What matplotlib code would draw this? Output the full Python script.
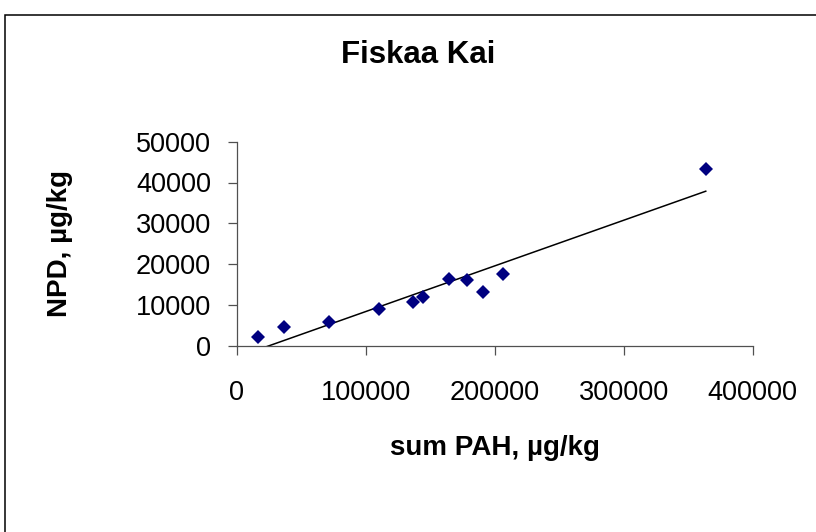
import numpy as np
import matplotlib
matplotlib.use('Agg')
import matplotlib.pyplot as plt
from matplotlib.patches import Rectangle

# values
sum_pah = [16860, 36920, 71170, 109970, 136720, 144750, 164280, 178730, 190770, 206290, 363610]
npd = [2040, 4490, 5880, 8900, 10620, 11850, 16260, 16180, 13150, 17650, 43220]
x_ticks = [0, 100000, 200000, 300000, 400000]
y_ticks = [0, 10000, 20000, 30000, 40000, 50000]

title = 'Fiskaa Kai'
x_label = 'sum PAH, µg/kg'
y_label = 'NPD, µg/kg'


def main():
    plt.rcParams['font.family'] = ['Liberation Sans', 'DejaVu Sans']
    W, H = 816, 532
    fig = plt.figure(figsize=(W / 100, H / 100), dpi=100)

    # chart area border (cut off at right and bottom in the reference)
    fig.patches.append(Rectangle((5 / W, -0.1), 1.2, 1.1 - 15 / H,
                                 transform=fig.transFigure, fill=False,
                                 edgecolor='black', linewidth=1.1))

    ax = fig.add_axes([236.7 / W, 1 - 345.7 / H, 516 / W, 204 / H])
    x = np.array(sum_pah, dtype=float)
    y = np.array(npd, dtype=float)

    # linear trendline over the data range
    slope, icpt = np.polyfit(x, y, 1)
    xs = np.array([x.min(), x.max()])
    ax.plot(xs, slope * xs + icpt, color='black', linewidth=1.1, zorder=2)
    ax.plot(x, y, linestyle='none', marker='D', markersize=7.4,
            color='#000080', markeredgewidth=0, zorder=3)

    ax.set_xlim(0, 400000)
    ax.set_ylim(0, 50000)
    ax.set_xticks(x_ticks)
    ax.set_yticks(y_ticks)
    ax.set_xticklabels([str(v) for v in x_ticks])
    ax.set_yticklabels([str(v) for v in y_ticks])

    for s in ['top', 'right']:
        ax.spines[s].set_visible(False)
    for s in ['left', 'bottom']:
        ax.spines[s].set_color('#505050')
        ax.spines[s].set_linewidth(0.9)
    ax.tick_params(axis='both', direction='out', length=6.5, width=0.9,
                   color='#505050', labelsize=19.5, labelcolor='black')
    ax.tick_params(axis='x', pad=18.5)
    ax.tick_params(axis='y', pad=12)

    ax.set_xlabel(x_label, fontsize=20, fontweight='bold', va='center')
    ax.xaxis.set_label_coords(0.5, (345.7 - 448) / 204)
    ax.set_ylabel(y_label, fontsize=20, fontweight='bold', va='center')
    ax.yaxis.set_label_coords((60 - 236.7) / 516, 0.5)

    fig.text(418 / W, 1 - 55 / H, title, ha='center', va='center',
             fontsize=22.5, fontweight='bold')

    fig.savefig('out.png', dpi=100, facecolor='white')


if __name__ == '__main__':
    main()
